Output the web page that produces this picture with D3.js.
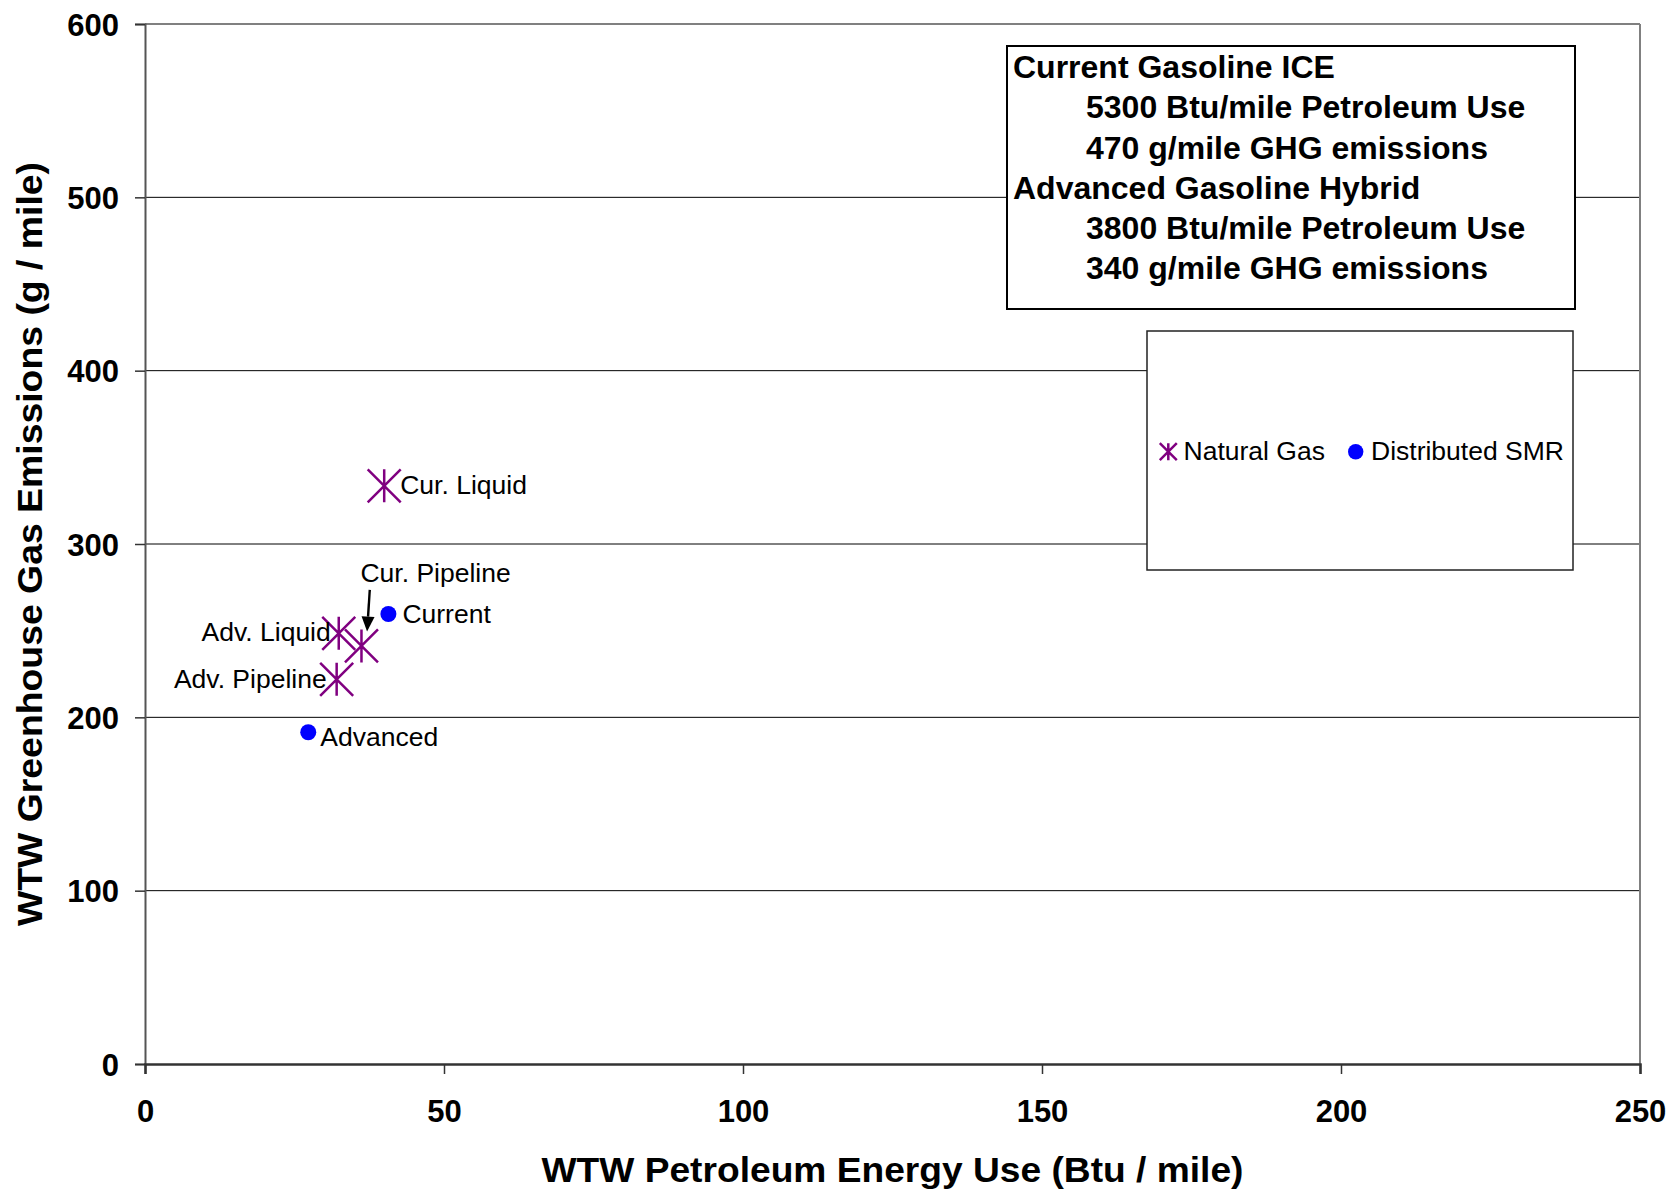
<!DOCTYPE html>
<html>
<head>
<meta charset="utf-8">
<script src="https://cdn.jsdelivr.net/npm/d3@7"></script>
<style>
  html, body { margin: 0; padding: 0; background: #fff; }
  svg { display: block; font-family: "Liberation Sans", Arial, sans-serif; }
</style>
</head>
<body>
<svg id="chart" width="1669" height="1191"></svg>
<script>
// ---- data ----
const ngLabels = ["Cur. Liquid", "Cur. Pipeline", "Adv. Liquid", "Adv. Pipeline"];
const ngX = [40.0, 36.2, 32.4, 32.05];
const ngY = [333.6, 241.2, 248.5, 221.9];

const smrLabels = ["Current", "Advanced"];
const smrX = [40.7, 27.3];
const smrY = [259.6, 191.4];

const xTicks = [0, 50, 100, 150, 200, 250];
const yTicks = [0, 100, 200, 300, 400, 500, 600];

const xTitle = "WTW Petroleum Energy Use (Btu / mile)";
const yTitle = "WTW Greenhouse Gas Emissions (g / mile)";
const seriesNames = ["Natural Gas", "Distributed SMR"];
const noteLines = [
  "Current Gasoline ICE",
  "5300 Btu/mile Petroleum Use",
  "470 g/mile GHG emissions",
  "Advanced Gasoline Hybrid",
  "3800 Btu/mile Petroleum Use",
  "340 g/mile GHG emissions"
];
const noteIndent = [false, true, true, false, true, true];

// ---- layout ----
const L = 145, R = 1640, T = 24, B = 1064;
const svg = d3.select("#chart");
const x = d3.scaleLinear().domain([0, 250]).range([L, R]);
const y = d3.scaleLinear().domain([0, 600]).range([B, T]);

const purple = "#800080", blue = "#0000FF";

// gridlines
svg.append("g").selectAll("line").data(yTicks.filter(d => d > 0 && d < 600)).join("line")
  .attr("x1", L).attr("x2", R).attr("y1", d => y(d)).attr("y2", d => y(d))
  .attr("stroke", "#000").attr("stroke-width", 1);

// plot border
svg.append("line").attr("x1", L).attr("x2", R).attr("y1", T).attr("y2", T).attr("stroke", "#808080").attr("stroke-width", 2);
svg.append("line").attr("x1", R).attr("x2", R).attr("y1", T).attr("y2", B).attr("stroke", "#808080").attr("stroke-width", 2);

// y axis
const yAxis = d3.axisLeft(y).tickValues(yTicks).tickSize(10).tickPadding(16).tickFormat(d3.format("d"));
const gy = svg.append("g").attr("transform", `translate(${L},0)`).call(yAxis);
gy.select(".domain").attr("stroke", "#555").attr("stroke-width", 2);
gy.selectAll(".tick line").attr("stroke", "#333").attr("stroke-width", 1.5);
gy.selectAll(".tick text").attr("font-size", 31).attr("font-weight", "bold")
  .attr("font-family", "Liberation Sans, Arial, sans-serif").attr("fill", "#000").attr("dy", "0.36em");

// x axis
const xAxis = d3.axisBottom(x).tickValues(xTicks).tickSize(10).tickPadding(26).tickFormat(d3.format("d"));
const gx = svg.append("g").attr("transform", `translate(0,${B})`).call(xAxis);
gx.select(".domain").attr("stroke", "#333").attr("stroke-width", 2.5);
gx.selectAll(".tick line").attr("stroke", "#333").attr("stroke-width", 1.5);
gx.selectAll(".tick text").attr("font-size", 31).attr("font-weight", "bold")
  .attr("font-family", "Liberation Sans, Arial, sans-serif").attr("fill", "#000").attr("dy", "0.71em");

// axis titles
svg.append("text").attr("x", (L + R) / 2).attr("y", 1182).attr("text-anchor", "middle")
  .attr("font-size", 35).attr("font-weight", "bold")
  .attr("textLength", 702).attr("lengthAdjust", "spacingAndGlyphs").text(xTitle);
svg.append("text").attr("transform", `translate(42,${(T + B) / 2}) rotate(-90)`).attr("text-anchor", "middle")
  .attr("font-size", 35).attr("font-weight", "bold")
  .attr("textLength", 764).attr("lengthAdjust", "spacingAndGlyphs").text(yTitle);

// star marker
function star(g, cx, cy, h, sw) {
  const p = `M${cx},${cy - h}L${cx},${cy + h}M${cx - h},${cy - h}L${cx + h},${cy + h}M${cx - h},${cy + h}L${cx + h},${cy - h}`;
  g.append("path").attr("d", p).attr("stroke", purple).attr("stroke-width", sw).attr("fill", "none");
}

const ngData = ngLabels.map((l, i) => ({ label: l, x: ngX[i], y: ngY[i] }));
const smrData = smrLabels.map((l, i) => ({ label: l, x: smrX[i], y: smrY[i] }));

const marks = svg.append("g");
ngData.forEach(d => star(marks, x(d.x), y(d.y), 16.5, 2.5));
marks.selectAll("circle").data(smrData).join("circle")
  .attr("cx", d => x(d.x)).attr("cy", d => y(d.y)).attr("r", 8).attr("fill", blue);

// point labels (offsets in px relative to marker)
const ngOff = {
  "Cur. Liquid": [16, 8, "start"],
  "Cur. Pipeline": [-1, -64, "start"],
  "Adv. Liquid": [-8, 8, "end"],
  "Adv. Pipeline": [-10, 9, "end"]
};
const smrOff = {
  "Current": [14, 9, "start"],
  "Advanced": [12, 14, "start"]
};
const labels = svg.append("g").attr("font-size", 26.5).attr("fill", "#000");
ngData.forEach(d => {
  const o = ngOff[d.label];
  labels.append("text").attr("x", x(d.x) + o[0]).attr("y", y(d.y) + o[1]).attr("text-anchor", o[2]).text(d.label);
});
smrData.forEach(d => {
  const o = smrOff[d.label];
  labels.append("text").attr("x", x(d.x) + o[0]).attr("y", y(d.y) + o[1]).attr("text-anchor", o[2]).text(d.label);
});

// arrow from "Cur. Pipeline" label to its marker
const cp = ngData[1];
const ax1 = x(cp.x) + 8.3, ay1 = y(cp.y) - 56;
const ax2 = x(cp.x) + 5.6, ay2 = y(cp.y) - 14.3;
const ang = Math.atan2(ay2 - ay1, ax2 - ax1);
const hl = 15, hw = 6.5;
const bx = ax2 - hl * Math.cos(ang), by = ay2 - hl * Math.sin(ang);
svg.append("line").attr("x1", ax1).attr("y1", ay1).attr("x2", bx).attr("y2", by)
  .attr("stroke", "#000").attr("stroke-width", 2.4);
svg.append("path")
  .attr("d", `M${ax2},${ay2}L${bx + hw * Math.sin(ang)},${by - hw * Math.cos(ang)}L${bx - hw * Math.sin(ang)},${by + hw * Math.cos(ang)}Z`)
  .attr("fill", "#000");

// note box
svg.append("rect").attr("x", 1007).attr("y", 46).attr("width", 568).attr("height", 263)
  .attr("fill", "#fff").attr("stroke", "#000").attr("stroke-width", 2);
const notes = svg.append("g").attr("font-size", 32).attr("font-weight", "bold").attr("fill", "#000");
noteLines.forEach((t, i) => {
  notes.append("text").attr("x", noteIndent[i] ? 1086 : 1013).attr("y", 78 + i * 40.25).text(t);
});

// legend box
svg.append("rect").attr("x", 1147).attr("y", 331).attr("width", 426).attr("height", 239)
  .attr("fill", "#fff").attr("stroke", "#222").attr("stroke-width", 1.5);
star(svg, 1168.3, 451.7, 8.5, 2.5);
svg.append("text").attr("x", 1183.5).attr("y", 460).attr("font-size", 26.5).text(seriesNames[0]);
svg.append("circle").attr("cx", 1355.7).attr("cy", 451.7).attr("r", 7.7).attr("fill", blue);
svg.append("text").attr("x", 1371).attr("y", 460).attr("font-size", 26.5).text(seriesNames[1]);
</script>
</body>
</html>
